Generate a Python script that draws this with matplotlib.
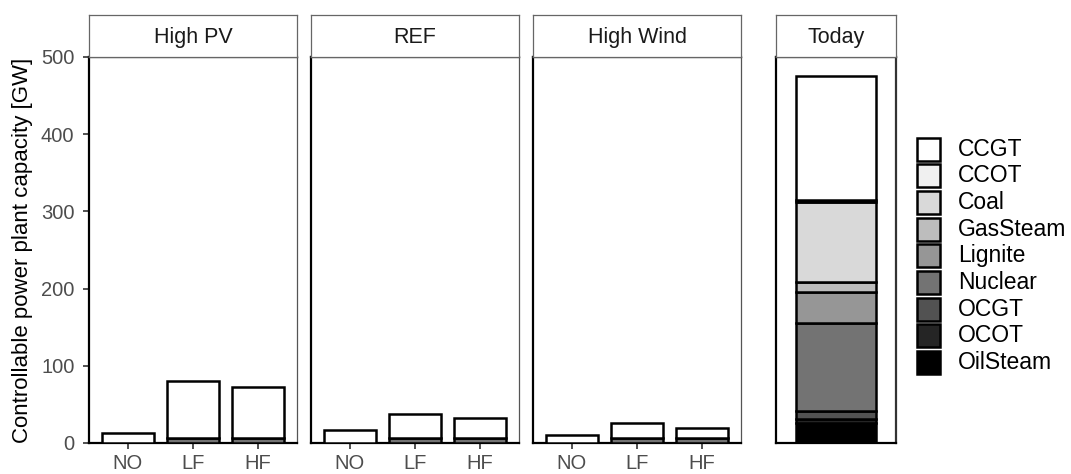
import matplotlib
matplotlib.use("Agg")
import matplotlib.pyplot as plt
from matplotlib.patches import Rectangle
import numpy as np

plt.rcParams['font.family'] = ['Liberation Sans', 'DejaVu Sans']

# Technologies in legend order; bars stack them from the last one upward
techs = ["CCGT", "CCOT", "Coal", "GasSteam", "Lignite", "Nuclear", "OCGT", "OCOT", "OilSteam"]
tech_colors = ["#FFFFFF", "#F0F0F0", "#D9D9D9", "#BDBDBD", "#969696",
               "#737373", "#525252", "#252525", "#000000"]

scenarios = ["High PV", "REF", "High Wind"]
cases = ["NO", "LF", "HF"]

# Capacity per scenario and case [GW]
ccgt_cap = {
    "High PV":   [13, 73, 65],
    "REF":       [17, 31, 27],
    "High Wind": [11, 20, 13],
}
nuclear_cap = {
    "High PV":   [0, 7, 7],
    "REF":       [0, 6, 6],
    "High Wind": [0, 6, 6],
}

# Today's installed capacity [GW]
today_cap = {
    "CCGT": 161, "CCOT": 3, "Coal": 103, "GasSteam": 14, "Lignite": 39,
    "Nuclear": 115, "OCGT": 10, "OCOT": 5, "OilSteam": 26,
}

W, H = 1071, 474
fig = plt.figure(figsize=(W / 100, H / 100), dpi=100)


def px_axes(x0, x1, y_top, y_bot):
    return fig.add_axes([x0 / W, 1 - y_bot / H, (x1 - x0) / W, (y_bot - y_top) / H])


def style_panel(ax, show_y):
    ax.set_ylim(0, 500)
    for s in ("left", "bottom"):
        ax.spines[s].set_color("black")
        ax.spines[s].set_linewidth(1.6)
    ax.spines["right"].set_color("#555555")
    ax.spines["right"].set_linewidth(0.9)
    ax.spines["top"].set_color("#222222")
    ax.spines["top"].set_linewidth(1.6)
    ax.tick_params(axis="x", length=4, width=1.2, color="#333333",
                   labelsize=14.5, labelcolor="#4D4D4D", pad=4)
    if show_y:
        ax.set_yticks([0, 100, 200, 300, 400, 500])
        ax.tick_params(axis="y", length=4, width=1.2, color="#333333",
                       labelsize=14.5, labelcolor="#4D4D4D", pad=6.5)
    else:
        ax.set_yticks([])


def strip(x0, x1, label):
    sax = px_axes(x0, x1, 15, 57)
    sax.set_xticks([])
    sax.set_yticks([])
    for s in sax.spines.values():
        s.set_color("#666666")
        s.set_linewidth(0.9)
    sax.text(0.5, 0.47, label, ha="center", va="center", fontsize=15.5,
             transform=sax.transAxes, color="#1A1A1A")


def stacked_bar(ax, x, segments):
    bottom = 0
    for tech in reversed(techs):
        v = segments.get(tech, 0)
        if v <= 0:
            continue
        ax.bar(x, v, width=0.8, bottom=bottom,
               color=tech_colors[techs.index(tech)],
               edgecolor="black", linewidth=1.8, zorder=3)
        bottom += v


panel_x = [(89, 297), (311, 519), (533, 741)]
for i, (scen, (x0, x1)) in enumerate(zip(scenarios, panel_x)):
    ax = px_axes(x0, x1, 57, 443)
    xs = np.arange(len(cases))
    for j in range(len(cases)):
        stacked_bar(ax, xs[j], {"CCGT": ccgt_cap[scen][j],
                                "Nuclear": nuclear_cap[scen][j]})
    ax.set_xlim(-0.6, len(cases) - 0.4)
    ax.set_xticks(xs)
    ax.set_xticklabels(cases)
    style_panel(ax, show_y=(i == 0))
    strip(x0, x1, scen)
    if i == 0:
        ax.set_ylabel("Controllable power plant capacity [GW]", fontsize=16,
                      color="black", labelpad=6)

# Today panel
tax = px_axes(776, 896, 57, 443)
stacked_bar(tax, 0, today_cap)
tax.set_xlim(-0.6, 0.6)
tax.set_xticks([])
style_panel(tax, show_y=False)
tax.spines["right"].set_color("#333333")
tax.spines["right"].set_linewidth(1.6)
strip(776, 896, "Today")

# Legend: keys stacked in a column, labels to the right
key_x0, key_size, key_top, key_pitch = 917, 23, 137.5, 26.7
for k, (name, col) in enumerate(zip(techs, tech_colors)):
    top = key_top + k * key_pitch
    fig.patches.append(Rectangle((key_x0 / W, 1 - (top + key_size) / H),
                                 key_size / W, key_size / H,
                                 facecolor=col, edgecolor="black", linewidth=1.8,
                                 transform=fig.transFigure, figure=fig))
    fig.text(958 / W, 1 - (top + key_size / 2) / H, name, ha="left", va="center",
             fontsize=16.5, color="black")

fig.savefig("out.png", dpi=100, facecolor="white")
